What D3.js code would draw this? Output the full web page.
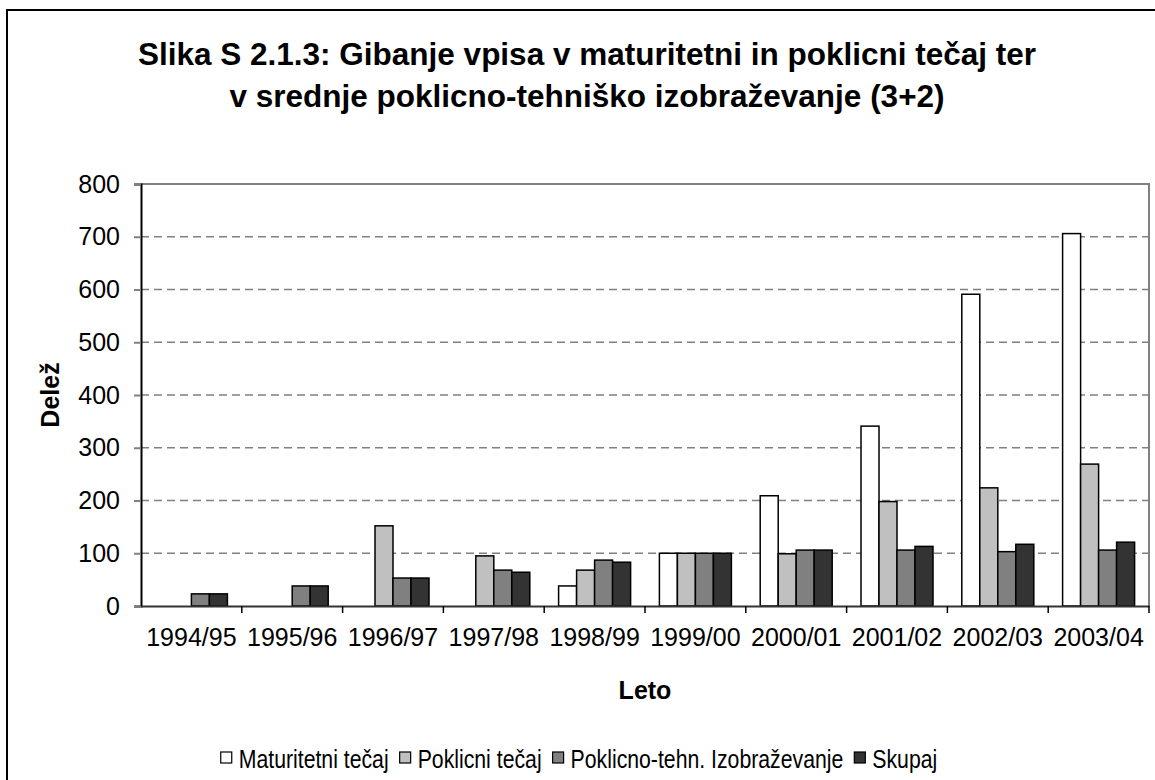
<!DOCTYPE html>
<html>
    <head>
        <meta charset="utf-8">
        <title>Gibanje vpisa</title>
        <style>
            body {
                margin: 0;
                background: #fff;
            }
            text {
                font-family: "Liberation Sans", Arial, sans-serif;
                fill: #000;
            }
            .grid line {
                stroke: #808080;
                stroke-width: 1.5px;
                stroke-dasharray: 8, 5;
            }
            .bar {
                stroke: #000;
                stroke-width: 1.5px;
            }
        </style>
    </head>

    <body>
        <script type="text/javascript" src="https://cdn.jsdelivr.net/npm/d3@7/dist/d3.min.js" charset="utf-8"></script>

        <script>

            var years = ["1994/95", "1995/96", "1996/97", "1997/98", "1998/99",
                         "1999/00", "2000/01", "2001/02", "2002/03", "2003/04"];
            var seriesNames = ["Maturitetni tečaj", "Poklicni tečaj",
                               "Poklicno-tehn. Izobraževanje", "Skupaj"];
            var seriesColors = ["#ffffff", "#c0c0c0", "#808080", "#333333"];

            var maturitetni = [0, 0, 0, 0, 38, 100, 209, 341, 591, 706];
            var poklicni    = [0, 0, 152, 95, 68, 100, 99, 198, 224, 269];
            var poklicnoTeh = [23, 38, 53, 68, 87, 100, 106, 106, 103, 106];
            var skupaj      = [23, 38, 53, 64, 83, 100, 106, 113, 117, 121];

            var yTicks = [0, 100, 200, 300, 400, 500, 600, 700, 800];

            var titleLines = ["Slika S 2.1.3: Gibanje vpisa v maturitetni in poklicni tečaj ter",
                              "v srednje poklicno-tehniško izobraževanje (3+2)"];

            var width = 1155;
            var height = 780;
            var plotLeft = 141, plotRight = 1149, plotTop = 184, plotBottom = 606;

            var allSeries = [maturitetni, poklicni, poklicnoTeh, skupaj];

            var svg = d3.select("body").append("svg")
                    .attr("width", width)
                    .attr("height", height);

            // chart frame (runs off the right and bottom edges)
            svg.append("rect")
                    .attr("x", 7).attr("y", 10)
                    .attr("width", 1170).attr("height", 800)
                    .attr("fill", "#fff")
                    .attr("stroke", "#000")
                    .attr("stroke-width", 2);

            // title
            svg.append("text")
                    .attr("text-anchor", "middle")
                    .style("font-size", "31.5px")
                    .style("font-weight", "bold")
                    .selectAll("tspan")
                    .data(titleLines)
                    .enter().append("tspan")
                    .attr("x", 587)
                    .attr("y", function (d, i) { return 65 + i * 42; })
                    .text(function (d) { return d; });

            var x0 = d3.scaleBand()
                    .domain(years)
                    .range([plotLeft, plotRight]);

            var x1 = d3.scaleBand()
                    .domain(d3.range(seriesNames.length))
                    .range([0, x0.bandwidth()])
                    .paddingInner(0)
                    .paddingOuter(0.8);

            var y = d3.scaleLinear()
                    .domain([0, 800])
                    .range([plotBottom, plotTop]);

            // gridlines
            svg.append("g")
                    .attr("class", "grid")
                    .selectAll("line")
                    .data(yTicks.filter(function (d) { return d > 0 && d < 800; }))
                    .enter().append("line")
                    .attr("x1", plotLeft).attr("x2", plotRight)
                    .attr("y1", y).attr("y2", y);

            // plot area border (top + right)
            svg.append("path")
                    .attr("d", "M" + plotLeft + "," + y(800) + "H" + plotRight + "V" + plotBottom)
                    .attr("fill", "none")
                    .attr("stroke", "#808080")
                    .attr("stroke-width", 2);

            // bars
            var rows = [];
            years.forEach(function (yr, i) {
                allSeries.forEach(function (s, j) {
                    if (s[i] > 0) rows.push({year: yr, k: j, v: s[i]});
                });
            });

            svg.append("g")
                    .selectAll("rect")
                    .data(rows)
                    .enter().append("rect")
                    .attr("class", "bar")
                    .attr("x", function (d) { return x0(d.year) + x1(d.k); })
                    .attr("y", function (d) { return y(d.v); })
                    .attr("width", x1.bandwidth())
                    .attr("height", function (d) { return y(0) - y(d.v); })
                    .attr("fill", function (d) { return seriesColors[d.k]; });

            // y axis
            var yAxis = svg.append("g")
                    .attr("transform", "translate(" + plotLeft + ",0)")
                    .call(d3.axisLeft(y).tickValues(yTicks).tickSize(7).tickPadding(14));
            yAxis.select(".domain").attr("stroke", "#000").attr("stroke-width", 2);
            yAxis.selectAll(".tick line").attr("stroke", "#808080").attr("stroke-width", 2);
            yAxis.selectAll(".tick text")
                    .style("font-size", "25px")
                    .style("font-family", "'Liberation Sans', Arial, sans-serif");

            // x axis
            var xAxis = svg.append("g")
                    .attr("transform", "translate(0," + plotBottom + ")")
                    .call(d3.axisBottom(x0).tickSize(0).tickPadding(22));
            xAxis.select(".domain").attr("stroke", "#333").attr("stroke-width", 2);
            xAxis.selectAll(".tick text")
                    .style("font-size", "25px")
                    .style("font-family", "'Liberation Sans', Arial, sans-serif");

            // category boundary ticks
            svg.append("g")
                    .selectAll("line")
                    .data(years)
                    .enter().append("line")
                    .attr("x1", function (d) { return x0(d) + x0.bandwidth(); })
                    .attr("x2", function (d) { return x0(d) + x0.bandwidth(); })
                    .attr("y1", plotBottom).attr("y2", plotBottom + 7)
                    .attr("stroke", "#000")
                    .attr("stroke-width", 1.5);

            // axis titles
            svg.append("text")
                    .attr("x", (plotLeft + plotRight) / 2).attr("y", 699)
                    .attr("text-anchor", "middle")
                    .style("font-size", "25px")
                    .style("font-weight", "bold")
                    .text("Leto");

            svg.append("text")
                    .attr("transform", "translate(59,395) rotate(-90)")
                    .attr("text-anchor", "middle")
                    .style("font-size", "25px")
                    .style("font-weight", "bold")
                    .text("Delež");

            // legend (text is a little condensed, like the original)
            var squeeze = 0.85;
            var legend = svg.append("g");
            var lx = 0;
            var items = legend.selectAll("g")
                    .data(seriesNames)
                    .enter().append("g");
            items.append("rect")
                    .attr("y", -16)
                    .attr("width", 11).attr("height", 11)
                    .attr("fill", function (d, i) { return seriesColors[i]; })
                    .attr("stroke", "#000")
                    .attr("stroke-width", 1.2);
            items.append("text")
                    .attr("transform", "translate(18,0) scale(" + squeeze + ",1)")
                    .style("font-size", "25px")
                    .text(function (d) { return d; });
            items.each(function () {
                var g = d3.select(this);
                g.attr("transform", "translate(" + lx + ",0)");
                lx += 18 + g.select("text").node().getComputedTextLength() * squeeze + 11;
            });
            legend.attr("transform", "translate(" + (579 - (lx - 11) / 2) + ",768)");

        </script>
    </body>
</html>
